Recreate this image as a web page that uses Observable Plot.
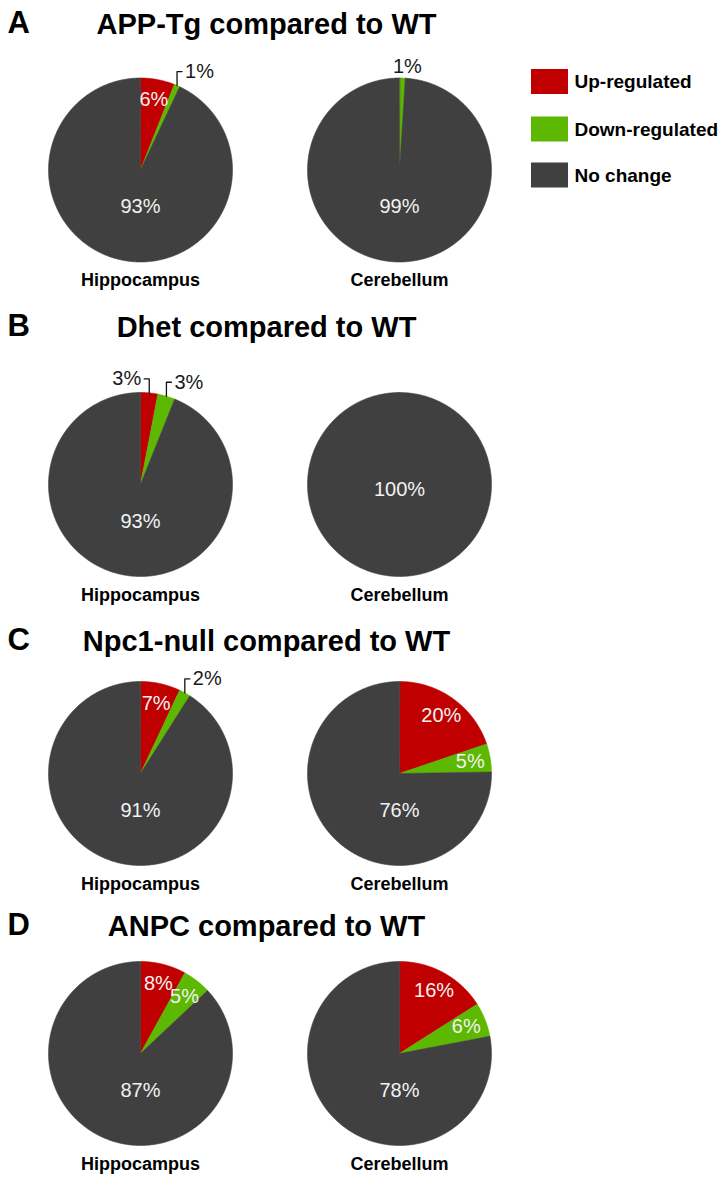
<!DOCTYPE html>
<html>
<head>
<meta charset="utf-8">
<script src="https://cdn.jsdelivr.net/npm/d3@7"></script>
<script src="https://cdn.jsdelivr.net/npm/@observablehq/plot@0.6"></script>
<style>
  html, body { margin: 0; padding: 0; background: #fff; }
  svg { display: block; }
</style>
</head>
<body>
<div id="chart"></div>
<script>
// ---------- data ----------
const panelLetters = ["A", "B", "C", "D"];
const panelTitles = [
  "APP-Tg compared to WT",
  "Dhet compared to WT",
  "Npc1-null compared to WT",
  "ANPC compared to WT"
];
const regions = ["Hippocampus", "Cerebellum"];
const categories = ["Up-regulated", "Down-regulated", "No change"];
const categoryColors = ["#c00000", "#5cb800", "#404040"];
// per panel: [Hippocampus, Cerebellum] in percent
const upRegulated   = [[6, 0], [3, 0], [7, 20], [8, 16]];
const downRegulated = [[1, 1], [3, 0], [2, 5], [5, 6]];
const noChange      = [[93, 99], [93, 100], [91, 76], [87, 78]];

// ---------- layout (pixel-unit frame) ----------
const W = 727, H = 1180, R = 92;
const pieX = [140, 399];
const rowY = [169.5, 484, 773, 1053];
const titleBaseline = [33, 336, 650, 935];
const titleX = 266, letterX = 7;
const regionLabelOffset = 116;
const legendX = 531, legendBoxW = 37, legendBoxH = 25, legendTextX = 574;
const legendRowY = [81.5, 129, 175];

const slices = [], inLabels = [], outLabels = [], leaders = [];
panelLetters.forEach((p, i) => {
  regions.forEach((reg, j) => {
    const vals = [upRegulated[i][j], downRegulated[i][j], noChange[i][j]];
    const total = d3.sum(vals);
    const cx = pieX[j], cy = rowY[i];
    let acc = 0;
    vals.forEach((v, k) => {
      if (v <= 0) return;
      const a0 = acc / total * 2 * Math.PI;
      acc += v;
      const a1 = acc / total * 2 * Math.PI;
      const id = `${p}-${j}-${k}`;
      const n = Math.max(2, Math.ceil((a1 - a0) / (Math.PI / 360)));
      if (v < total) slices.push({id, cat: categories[k], x: cx, y: cy});
      for (let s = 0; s <= n; s++) {
        const a = a0 + (a1 - a0) * s / n;
        slices.push({id, cat: categories[k], x: cx + R * Math.sin(a), y: cy - R * Math.cos(a)});
      }
      const am = (a0 + a1) / 2;
      const text = `${v}%`;
      if (k === 2) {
        inLabels.push({x: cx, y: cy + (v >= total ? 0.05 : 0.4) * R, text});
      } else if (v >= 5) {
        inLabels.push({x: cx + 0.78 * R * Math.sin(am), y: cy - 0.78 * R * Math.cos(am), text});
      } else {
        const ex = cx + R * Math.sin(am), ey = cy - R * Math.cos(am);
        const deg = am * 180 / Math.PI;
        if (deg < 3) {
          outLabels.push({x: ex + 5, y: ey - 11, text, anchor: "middle"});
        } else {
          const dir = deg < 10 ? -1 : 1;
          const hy = ey - 14;
          leaders.push({id, x: ex, y: ey}, {id, x: ex, y: hy}, {id, x: ex + dir * 5, y: hy});
          outLabels.push({x: ex + dir * 8, y: hy, text, anchor: dir < 0 ? "end" : "start"});
        }
      }
    });
  });
});

const titles = panelTitles.map((t, i) => ({x: titleX, y: titleBaseline[i], text: t}));
const letters = panelLetters.map((l, i) => ({x: letterX, y: titleBaseline[i] - 1, text: l}));
const regionLabels = [];
rowY.forEach((cy, i) => regions.forEach((r, j) => regionLabels.push({x: pieX[j], y: cy + regionLabelOffset, text: r})));
const legend = categories.map((c, k) => ({cat: c, y: legendRowY[k]}));

const font = "'Liberation Sans', Arial, Helvetica, sans-serif";
const outText = (anchor) => Plot.text(outLabels.filter(d => d.anchor === anchor),
  {x: "x", y: "y", text: "text", textAnchor: anchor, fill: "#1a1a1a", fontSize: 20, fontFamily: font});

const chart = Plot.plot({
  width: W,
  height: H,
  margin: 0,
  style: {fontFamily: font, background: "#fff"},
  x: {domain: [0, W], range: [0, W], axis: null},
  y: {domain: [0, H], range: [0, H], axis: null},
  color: {domain: categories, range: categoryColors},
  marks: [
    Plot.line(slices, {x: "x", y: "y", z: "id", fill: "cat", stroke: "cat", strokeWidth: 0.6, curve: "linear-closed"}),
    Plot.line(leaders, {x: "x", y: "y", z: "id", stroke: "#111", strokeWidth: 1.3}),
    Plot.text(inLabels, {x: "x", y: "y", text: "text", fill: "#f2f2f2", fontSize: 20, fontFamily: font}),
    outText("start"),
    outText("end"),
    outText("middle"),
    Plot.text(titles, {x: "x", y: "y", text: "text", fontSize: 29, fontWeight: "bold", lineAnchor: "bottom", fill: "#000", fontFamily: font}),
    Plot.text(letters, {x: "x", y: "y", text: "text", fontSize: 31, fontWeight: "bold", lineAnchor: "bottom", textAnchor: "start", fill: "#000", fontFamily: font}),
    Plot.text(regionLabels, {x: "x", y: "y", text: "text", fontSize: 18, fontWeight: "bold", lineAnchor: "bottom", fill: "#000", fontFamily: font}),
    Plot.rect(legend, {x1: legendX, x2: legendX + legendBoxW, y1: d => d.y - legendBoxH / 2, y2: d => d.y + legendBoxH / 2, fill: "cat"}),
    Plot.text(legend, {x: legendTextX, y: "y", text: "cat", textAnchor: "start", fontSize: 19, fontWeight: "bold", fill: "#000", fontFamily: font})
  ]
});
document.getElementById("chart").appendChild(chart);
</script>
</body>
</html>
